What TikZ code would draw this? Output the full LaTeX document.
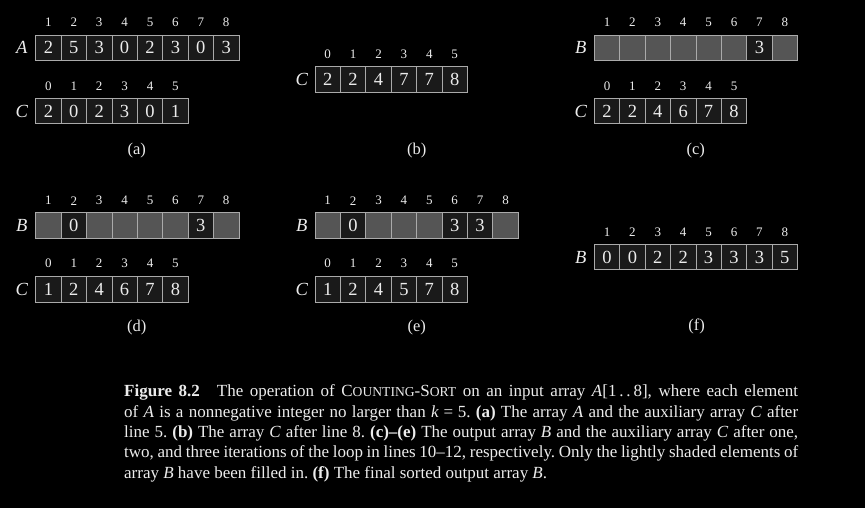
\documentclass[tikz,border=0pt]{standalone}
\usepackage{fontspec}
\setmainfont{Liberation Serif}
\definecolor{fg}{RGB}{236,236,236}
\definecolor{cellfill}{RGB}{26,26,26}
\definecolor{emptyfill}{RGB}{85,85,85}
\definecolor{cellline}{RGB}{170,170,170}
\newcommand\celfont{\fontsize{18.5}{18.5}\selectfont}
\newcommand\idxfont{\fontsize{13}{13}\selectfont}
\newcommand\lblfont{\fontsize{18.5}{18.5}\selectfont\itshape}
\newcommand\subfont{\fontsize{16.5}{16.5}\selectfont}
\newcommand\capfont{\fontsize{17}{20.4}\selectfont\frenchspacing}
\newcommand\fsc[1]{{\fontsize{13.6}{13.6}\selectfont\MakeUppercase{#1}}}
\tikzset{
  cell/.style={draw=cellline, fill=cellfill, minimum width=25.4pt, minimum height=25.5pt,
    inner sep=0pt, line width=0.8pt, text=fg, font=\celfont},
  emptycell/.style={cell, fill=emptyfill},
  idx/.style={text=fg, font=\idxfont, inner sep=0pt},
  arrlabel/.style={text=fg, font=\lblfont, inner sep=0pt},
  sublabel/.style={text=fg, font=\subfont, inner sep=0pt},
  captext/.style={text=fg, font=\capfont, inner sep=0pt, text width=674pt, align=justify, anchor=base west}
}
% #1 name, #2 x0, #3 ytop, #4 first index, #5 list, #6 label, #7 label x, #8 index y
\newcommand\drawarr[8]{%
  \node[arrlabel] (#1-lbl) at (#7,#3+12.75) {#6};
  \foreach \v/\s [count=\i from 0] in {#5} {
    \pgfmathsetmacro\cx{#2+25.4*(\i+0.5)}
    \pgfmathtruncatemacro\ix{\i+#4}
    \node[\s] (#1-\ix) at (\cx,#3+12.75) {\v};
    \node[idx] (#1-i\ix) at (\cx,#8) {\ix};
  }
}
\begin{document}
\begin{tikzpicture}[x=1pt,y=-1pt]
\fill[black] (0,0) rectangle (865,508);
\useasboundingbox (0,0) rectangle (865,508);
% (a)
\drawarr{aA}{35.7}{35}{1}{2/cell,5/cell,3/cell,0/cell,2/cell,3/cell,0/cell,3/cell}{A}{21.7}{22.3}
\drawarr{aC}{35.7}{98.3}{0}{2/cell,0/cell,2/cell,3/cell,0/cell,1/cell}{C}{21.7}{86}
\node[sublabel] (la) at (136.7,150.7) {(a)};
% (b)
\drawarr{bC}{315}{66.7}{0}{2/cell,2/cell,4/cell,7/cell,7/cell,8/cell}{C}{301.7}{54}
\node[sublabel] (lb) at (416.7,150.3) {(b)};
% (c)
\drawarr{cB}{594.3}{35}{1}{/emptycell,/emptycell,/emptycell,/emptycell,/emptycell,/emptycell,3/cell,/emptycell}{B}{580.7}{22.3}
\drawarr{cC}{594.3}{98.3}{0}{2/cell,2/cell,4/cell,6/cell,7/cell,8/cell}{C}{580.7}{86}
\node[sublabel] (lc) at (695.7,150.7) {(c)};
% (d)
\drawarr{dB}{35.7}{212.7}{1}{/emptycell,0/cell,/emptycell,/emptycell,/emptycell,/emptycell,3/cell,/emptycell}{B}{21.7}{200.7}
\drawarr{dC}{35.7}{276.7}{0}{1/cell,2/cell,4/cell,6/cell,7/cell,8/cell}{C}{21.7}{263.3}
\node[sublabel] (ld) at (136.7,327.3) {(d)};
% (e)
\drawarr{eB}{315}{212.7}{1}{/emptycell,0/cell,/emptycell,/emptycell,/emptycell,3/cell,3/cell,/emptycell}{B}{301.7}{200.7}
\drawarr{eC}{315}{276.7}{0}{1/cell,2/cell,4/cell,5/cell,7/cell,8/cell}{C}{301.7}{263.3}
\node[sublabel] (le) at (416.7,327.3) {(e)};
% (f)
\drawarr{fB}{594.3}{244.3}{1}{0/cell,0/cell,2/cell,2/cell,3/cell,3/cell,3/cell,5/cell}{B}{580.7}{232.3}
\node[sublabel] (lf) at (696.7,326.7) {(f)};
% caption
\node[captext] (cap) at (124,396.7) {\textbf{Figure 8.2}\quad The operation of C\fsc{ounting}-S\fsc{ort} on an input array \textit{A}[1\,.\,.\,8], where each element\linebreak
of \textit{A} is a nonnegative integer no larger than \textit{k}\;=\;5. \textbf{(a)} The array \textit{A} and the auxiliary array \textit{C} after\linebreak
line 5. \textbf{(b)} The array \textit{C} after line 8. \textbf{(c)--(e)} The output array \textit{B} and the auxiliary array \textit{C} after one,\linebreak
two, and three iterations of the loop in lines 10--12, respectively. Only the lightly shaded elements of\linebreak
array \textit{B} have been filled in. \textbf{(f)} The final sorted output array \textit{B}.};
\end{tikzpicture}
\end{document}
